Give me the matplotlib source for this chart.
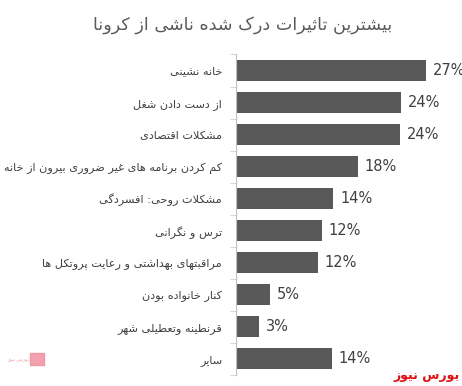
import matplotlib
matplotlib.use("Agg")
import matplotlib.pyplot as plt
from matplotlib.patches import Rectangle

# matplotlib has no Arabic shaping, so map letters to presentation forms by hand
# (isolated, final, initial, medial); None -> letter does not join to the next one
FORMS = {
    "ا": (0xFE8D, 0xFE8E, None, None),
    "آ": (0xFE81, 0xFE82, None, None),
    "ب": (0xFE8F, 0xFE90, 0xFE91, 0xFE92),
    "پ": (0xFB56, 0xFB57, 0xFB58, 0xFB59),
    "ت": (0xFE95, 0xFE96, 0xFE97, 0xFE98),
    "ث": (0xFE99, 0xFE9A, 0xFE9B, 0xFE9C),
    "ج": (0xFE9D, 0xFE9E, 0xFE9F, 0xFEA0),
    "چ": (0xFB7A, 0xFB7B, 0xFB7C, 0xFB7D),
    "ح": (0xFEA1, 0xFEA2, 0xFEA3, 0xFEA4),
    "خ": (0xFEA5, 0xFEA6, 0xFEA7, 0xFEA8),
    "د": (0xFEA9, 0xFEAA, None, None),
    "ذ": (0xFEAB, 0xFEAC, None, None),
    "ر": (0xFEAD, 0xFEAE, None, None),
    "ز": (0xFEAF, 0xFEB0, None, None),
    "ژ": (0xFB8A, 0xFB8B, None, None),
    "س": (0xFEB1, 0xFEB2, 0xFEB3, 0xFEB4),
    "ش": (0xFEB5, 0xFEB6, 0xFEB7, 0xFEB8),
    "ص": (0xFEB9, 0xFEBA, 0xFEBB, 0xFEBC),
    "ض": (0xFEBD, 0xFEBE, 0xFEBF, 0xFEC0),
    "ط": (0xFEC1, 0xFEC2, 0xFEC3, 0xFEC4),
    "ظ": (0xFEC5, 0xFEC6, 0xFEC7, 0xFEC8),
    "ع": (0xFEC9, 0xFECA, 0xFECB, 0xFECC),
    "غ": (0xFECD, 0xFECE, 0xFECF, 0xFED0),
    "ف": (0xFED1, 0xFED2, 0xFED3, 0xFED4),
    "ق": (0xFED5, 0xFED6, 0xFED7, 0xFED8),
    "ک": (0xFB8E, 0xFB8F, 0xFB90, 0xFB91),
    "گ": (0xFB92, 0xFB93, 0xFB94, 0xFB95),
    "ل": (0xFEDD, 0xFEDE, 0xFEDF, 0xFEE0),
    "م": (0xFEE1, 0xFEE2, 0xFEE3, 0xFEE4),
    "ن": (0xFEE5, 0xFEE6, 0xFEE7, 0xFEE8),
    "ه": (0xFEE9, 0xFEEA, 0xFEEB, 0xFEEC),
    "و": (0xFEED, 0xFEEE, None, None),
    "ی": (0xFBFC, 0xFBFD, 0xFBFE, 0xFBFF),
    "LA": (0xFEFB, 0xFEFC, None, None),
}


def fa(text):
    # lam + alef ligature first
    chars = []
    i = 0
    while i < len(text):
        if text[i] == "ل" and i + 1 < len(text) and text[i + 1] == "ا":
            chars.append("LA")
            i += 2
        else:
            chars.append(text[i])
            i += 1
    out = []
    for i, c in enumerate(chars):
        if c not in FORMS:
            out.append(c)
            continue
        prev = chars[i - 1] if i > 0 else None
        nxt = chars[i + 1] if i + 1 < len(chars) else None
        join_prev = prev in FORMS and FORMS[prev][2] is not None
        join_next = nxt in FORMS and FORMS[c][2] is not None
        iso, fin, ini, med = FORMS[c]
        if join_prev and join_next:
            code = med
        elif join_prev:
            code = fin
        elif join_next:
            code = ini
        else:
            code = iso
        out.append(chr(code))
    return "".join(out)[::-1]


title = "بیشترین تاثیرات درک شده ناشی از کرونا"
categories = [
    "خانه نشینی",
    "از دست دادن شغل",
    "مشکلات اقتصادی",
    "کم کردن برنامه های غیر ضروری بیرون از خانه",
    "مشکلات روحی: افسردگی",
    "ترس و نگرانی",
    "مراقبتهای بهداشتی و رعایت پروتکل ها",
    "کنار خانواده بودن",
    "قرنطینه وتعطیلی شهر",
    "سایر",
]
values = [27.0, 23.4, 23.3, 17.3, 13.8, 12.2, 11.6, 4.8, 3.3, 13.6]
value_labels = ["27%", "24%", "24%", "18%", "14%", "12%", "12%", "5%", "3%", "14%"]
source = "بورس نیوز"

plt.rcParams["font.family"] = ["DejaVu Sans"]

W, H = 462, 386
fig = plt.figure(figsize=(W / 100, H / 100), dpi=100)
fig.patch.set_facecolor("white")

# axes placed in pixels: value axis at x=236, 7.04 px per percent
x0 = 236
xmax = 30
ax = fig.add_axes([x0 / W, 1 - 374.7 / H, xmax * 7.04 / W, (374.7 - 54.5) / H])

pos = list(range(len(categories)))
ax.barh(pos, values, height=0.66, color="#595959")
ax.set_ylim(len(categories) - 0.5, -0.5)
ax.set_xlim(0, xmax)

for p, v, lab in zip(pos, values, value_labels):
    ax.annotate(lab, (v, p), xytext=(5, 0), textcoords="offset points",
                va="center", ha="left", fontsize=10.5, color="#404040",
                annotation_clip=False)

ax.set_yticks(pos)
ax.set_yticklabels([fa(c) for c in categories], fontsize=8.1, color="#404040")
ax.set_yticks([p - 0.5 for p in pos] + [len(pos) - 0.5], minor=True)
ax.tick_params(axis="y", which="major", length=0, pad=10)
ax.tick_params(axis="y", which="minor", length=4, color="#d9d9d9", width=0.8)
ax.set_xticks([])
for s in ["top", "right", "bottom"]:
    ax.spines[s].set_visible(False)
ax.spines["left"].set_color("#bfbfbf")
ax.spines["left"].set_linewidth(0.8)

fig.text(243 / W, 1 - 25 / H, fa(title), ha="center", va="center",
         fontsize=12.6, color="#595959")
fig.text(460 / W, 1 - 376 / H, fa(source), ha="right", va="center",
         fontsize=9, fontweight="bold", color="#e01010")

# faded logo, bottom left
fig.patches.append(Rectangle((30 / W, 1 - 365 / H), 14 / W, 12 / H,
                             transform=fig.transFigure, color="#f08a9a",
                             alpha=0.8))
fig.text(29 / W, 1 - 360 / H, fa(source), ha="right", va="center",
         fontsize=3.6, color="#f08a9a", alpha=0.8)

fig.savefig("out.png", dpi=100)
